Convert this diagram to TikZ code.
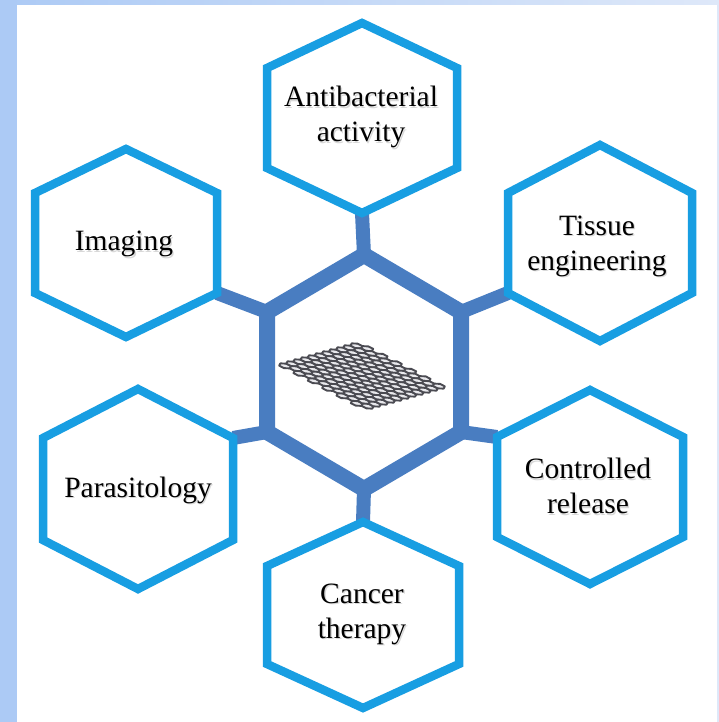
\documentclass[tikz,border=0pt]{standalone}
\usepackage{fontspec}
\setmainfont{Liberation Serif}
\newfontfamily\labelfont{Liberation Serif}
\definecolor{hexcyan}{RGB}{24,158,226}
\definecolor{coreblue}{RGB}{73,125,193}
\definecolor{bgleft}{RGB}{172,202,245}
\definecolor{bgright}{RGB}{222,232,249}
\definecolor{sheetline}{RGB}{75,75,82}
\definecolor{sheetfill}{RGB}{232,232,236}

% corner points of a hexagon: name, cx, cy, half width, apex offset, side offset
\newcommand\hexpoints[6]{%
  \coordinate (#1-n)  at ({#2},{#3-#5});
  \coordinate (#1-ne) at ({#2+#4},{#3-#6});
  \coordinate (#1-se) at ({#2+#4},{#3+#6});
  \coordinate (#1-s)  at ({#2},{#3+#5});
  \coordinate (#1-sw) at ({#2-#4},{#3+#6});
  \coordinate (#1-nw) at ({#2-#4},{#3-#6});
}
\newcommand\hexoutline[2]{%
  \draw[#2] (#1-n) -- (#1-ne) -- (#1-se) -- (#1-s) -- (#1-sw) -- (#1-nw) -- cycle;
}
% text with a soft drop shadow: name, x, y, text
\newcommand\shadowlabel[4]{%
  \node[txtshadow] at ({#2+1.3},{#3+1.6}) {#4};
  \node[txt] (#1) at (#2,#3) {#4};
}

\begin{document}
\begin{tikzpicture}[x=1pt,y=-1pt,
  outerhex/.style={draw=hexcyan, line width=8.5pt, line join=miter, fill=white},
  corehex/.style={draw=coreblue, line width=16pt, line join=miter, fill=white},
  link/.style={draw=coreblue, line width=14pt},
  txt/.style={font=\labelfont\fontsize{29.5}{35}\selectfont, align=center, text=black, inner sep=0pt},
  txtshadow/.style={txt, text=black!30, opacity=0.5},
  cell/.style={draw=sheetline, fill=sheetfill, line width=1.9pt, line join=round}]

\useasboundingbox (0,0) rectangle (719,722);
\shade[left color=bgleft, right color=bgright] (0,0) rectangle (719,722);
\fill[bgleft] (0,0) rectangle (17,722);
\fill[white] (17,5) rectangle (717,722);

% corner points
\hexpoints{core}{364}{372}{97}{117}{60}
\hexpoints{anti}{362}{118}{95}{95}{50}
\hexpoints{imag}{126}{243}{91}{94}{50}
\hexpoints{tiss}{600}{243}{92}{98}{50}
\hexpoints{para}{138}{489}{95}{100}{51}
\hexpoints{ctrl}{590}{487}{93}{97}{50}
\hexpoints{canc}{363}{615}{96}{93}{49}

% links from the core to each application
\draw[link] (core-n)  -- (anti-s);
\draw[link] (core-nw) -- (imag-se);
\draw[link] (core-ne) -- (tiss-sw);
\draw[link] (core-sw) -- (para-ne);
\draw[link] (core-se) -- (ctrl-nw);
\draw[link] (core-s)  -- (canc-n);

% hexagons
\hexoutline{core}{corehex}
\foreach \h in {anti,imag,tiss,para,ctrl,canc}{\hexoutline{\h}{outerhex}}

% graphene sheet seen in perspective
\begin{scope}[shift={(278pt,-365pt)}]
  \begin{scope}[x={(82pt,23pt)}, y={(86pt,-45pt)}]
    \foreach \j in {0,...,11}{
      \foreach \i in {0,...,10}{
        \pgfmathsetmacro\ca{(\i+0.5+0.5*mod(\j,2))/11.5}
        \pgfmathsetmacro\cb{(\j+0.5)/12}
        \draw[cell] (\ca,\cb+0.0555) -- (\ca+0.0435,\cb+0.0278) -- (\ca+0.0435,\cb-0.0278)
          -- (\ca,\cb-0.0555) -- (\ca-0.0435,\cb-0.0278) -- (\ca-0.0435,\cb+0.0278) -- cycle;
      }
    }
  \end{scope}
\end{scope}

% labels
\shadowlabel{anti-t}{361}{117}{Antibacterial\\activity}
\shadowlabel{imag-t}{124}{244}{Imaging}
\shadowlabel{tiss-t}{597}{246}{Tissue\\engineering}
\shadowlabel{para-t}{138}{490}{Parasitology}
\shadowlabel{ctrl-t}{588}{486}{Controlled\\release}
\shadowlabel{canc-t}{362}{614}{Cancer\\therapy}
\end{tikzpicture}
\end{document}
